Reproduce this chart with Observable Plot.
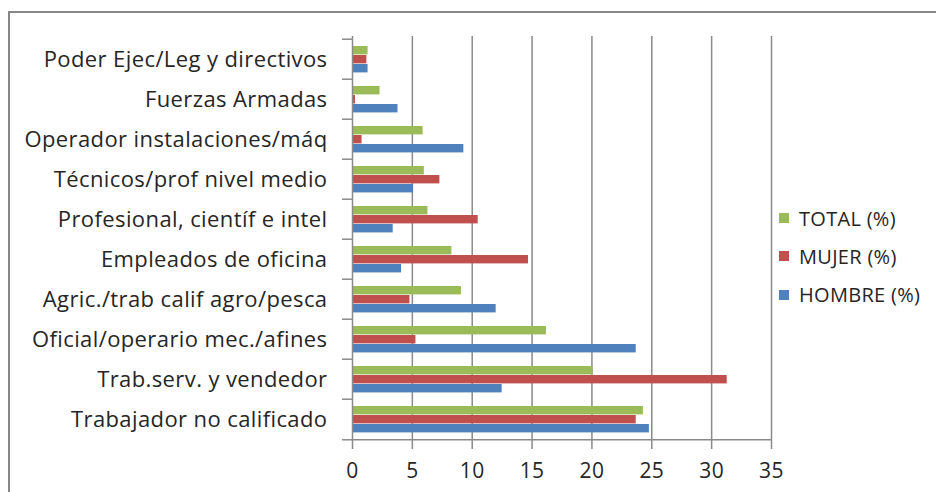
<!DOCTYPE html>
<html><head><meta charset="utf-8">
<script src="https://cdn.jsdelivr.net/npm/d3@7"></script>
<script src="https://cdn.jsdelivr.net/npm/@observablehq/plot@0.6"></script>
<style>
body{margin:0;background:#fff;font-family:"Open Sans",sans-serif;}
#wrap{position:relative;width:936px;height:492px;overflow:hidden;background:#fff;}
#border{position:absolute;left:8px;top:11px;width:2000px;height:2000px;border-left:2px solid #878787;border-top:2px solid #878787;}
#chart{position:absolute;left:0;top:0;}
#legend{position:absolute;left:779px;top:204px;color:#262626;font-size:20px;letter-spacing:0.3px;}
.item{display:flex;align-items:center;height:28px;margin-bottom:10.3px;white-space:nowrap;}
.sw{width:10px;height:10px;margin-right:10px;flex:none;}
</style></head>
<body><div id="wrap"><div id="border"></div><div id="chart"></div><div id="legend"></div></div>
<script>
const categories = ["Poder Ejec/Leg y directivos","Fuerzas Armadas","Operador instalaciones/máq","Técnicos/prof nivel medio","Profesional, científ e intel","Empleados de oficina","Agric./trab calif agro/pesca","Oficial/operario mec./afines","Trab.serv. y vendedor","Trabajador no calificado"];
const total  = [1.3, 2.3, 5.9, 6.0, 6.3, 8.3, 9.1, 16.2, 20.1, 24.3];
const mujer  = [1.2, 0.25, 0.8, 7.3, 10.5, 14.7, 4.8, 5.3, 31.3, 23.7];
const hombre = [1.3, 3.8, 9.3, 5.1, 3.4, 4.1, 12.0, 23.7, 12.5, 24.8];
const series = ["TOTAL (%)","MUJER (%)","HOMBRE (%)"];
const seriesValues = [total, mujer, hombre];
const colors = ["#9BBB59","#C0504D","#4F81BD"];
const xTicks = [0,5,10,15,20,25,30,35];

const W = 936, H = 492, mL = 352, mR = 165, mT = 36, mB = 50;
const step = (H - mT - mB) / categories.length;
const barH = 9, offsets = [7, 16, 25];
const gray = "#8a8a8a";

const rows = categories.map((c, i) => {
  const r = {category: c};
  series.forEach((s, k) => r[s] = seriesValues[k][i]);
  return r;
});

const chart = Plot.plot({
  width: W, height: H,
  marginLeft: mL, marginRight: mR, marginTop: mT, marginBottom: mB,
  style: {fontFamily: "'Open Sans', sans-serif", fontSize: "21px", color: "#262626", background: "transparent", letterSpacing: "0.4px"},
  x: {domain: [0, 35], axis: null},
  y: {domain: categories, padding: 0, axis: null},
  marks: [
    Plot.ruleX(xTicks.filter(d => d > 0), {stroke: gray, strokeWidth: 1.5}),
    ...series.map((s, k) => Plot.barX(rows, {
      y: "category", x: s, fill: colors[k],
      insetTop: offsets[k], insetBottom: step - offsets[k] - barH
    })),
    Plot.ruleX([0], {stroke: gray, strokeWidth: 1.5}),
    Plot.ruleY([categories[categories.length - 1]], {dy: step / 2, stroke: gray, strokeWidth: 1.5}),
    Plot.axisY({text: null, tickSize: 10, dy: -step / 2, stroke: gray, strokeWidth: 1.5, label: null}),
    Plot.axisY({ticks: [categories[categories.length - 1]], text: null, tickSize: 10, dy: step / 2, stroke: gray, strokeWidth: 1.5, label: null}),
    Plot.axisY({tickSize: 0, tickPadding: 25, fill: "#262626", fontSize: 22, label: null}),
    Plot.axisX({ticks: xTicks, tickSize: 7, tickPadding: 14, stroke: gray, strokeWidth: 1.5, fill: "#262626", label: null})
  ]
});
document.getElementById("chart").appendChild(chart);

const legend = document.getElementById("legend");
series.forEach((s, k) => {
  const it = document.createElement("div");
  it.className = "item";
  const sw = document.createElement("span");
  sw.className = "sw"; sw.style.background = colors[k];
  const t = document.createElement("span"); t.textContent = s;
  it.appendChild(sw); it.appendChild(t);
  legend.appendChild(it);
});
</script></body></html>
